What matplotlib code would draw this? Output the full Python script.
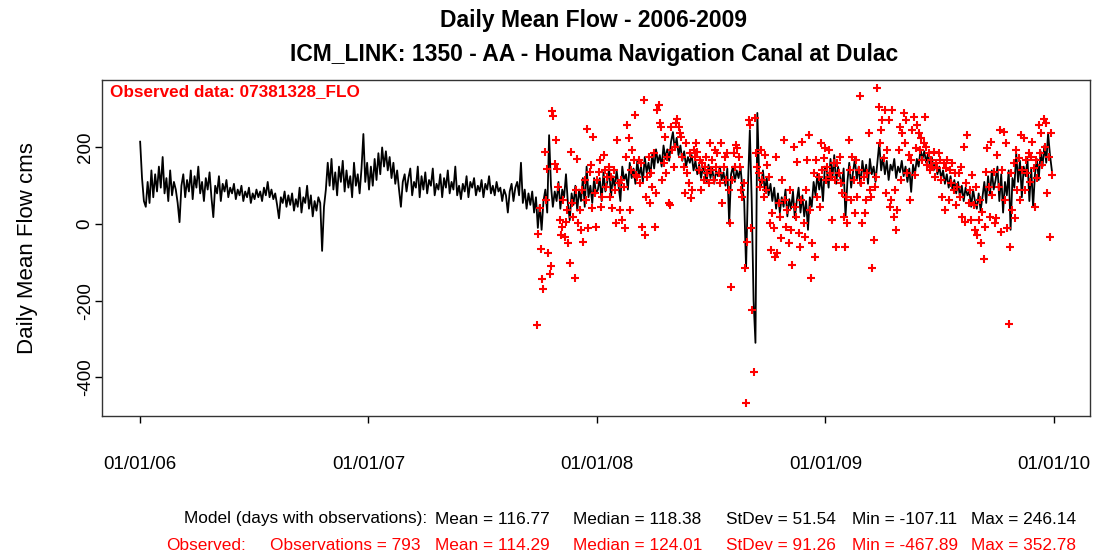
import pandas as pd
import matplotlib
matplotlib.use("Agg")
import matplotlib.pyplot as plt
import matplotlib.dates as mdates

plt.rcParams["font.family"] = ["Liberation Sans", "DejaVu Sans"]
plt.rcParams["axes.unicode_minus"] = False

# ── Data ──────────────────────────────────────────────────────
# model: one reading every 3 days from 2006-01-01
model_start = "2006-01-01"
model_step = 3
model_flow = [
    # 2006
    215, 120, 60, 45, 110, 55, 140, 70, 130, 85,
    150, 95, 175, 80, 120, 60, 140, 75, 110, 90,
    55, 5, 100, 130, 70, 115, 85, 140, 65, 125,
    95, 150, 80, 110, 60, 120, 90, 135, 70, 18,
    100, 80, 125, 60, 105, 85, 115, 70, 95, 80,
    105, 65, 90, 75, 100, 60, 85, 70, 95, 55,
    80, 65, 90, 70, 85, 60, 95, 75, 110, 70,
    90, 65, 80, 50, 15, 70, 55, 85, 45, 75,
    50, 80, 35, 65, 45, 95, 30, 70, 55, 100,
    40, 75, 20, 60, 35, 70, 55, -70, 45, 90,
    160, 100, 170, 90, 135, 75, 150, 110, 165, 85,
    140, 95, 125, 70, 160, 100, 130, 80, 145, 235,
    110, 160,
    # 2007
    90, 150, 100, 170, 115, 185, 130, 200, 150, 190,
    140, 175, 120, 160, 105, 140, 90, 45, 110, 130,
    85, 120, 145, 75, 110, 95, 150, 70, 125, 90,
    135, 80, 115, 100, 145, 75, 105, 90, 130, 70,
    120, 95, 140, 80, 110, 90, 150, 75, 100, 65,
    105, 85, 125, 70, 110, 95, 120, 75, 100, 85,
    115, 70, 105, 90, 125, 80, 100, 75, 110, 85,
    95, 60, 90, 75, 30, 85, 105, 60, 95, 110,
    75, 160, 55, 90, 40, 80, 50, 85, 30, 70,
    -10, 50, -15, 60, 90, 30, 232, 100, 45, 85,
    60, 110, 40, 90, 70, 130, 55, 10, 80, 50,
    100, 35, 90, 60, 120, 45, 150, 70, 100, 55, 120, 80,
    # 2008
    90, 120, 60, 135, 85, 110, 145, 70, 125, 95,
    140, 100, 60, 150, 115, 130, 90, 160, 120, 145,
    105, 165, 125, 150, 110, 175, 135, 160, 125, 185,
    145, 195, 160, 180, 150, 205, 170, 195, 165, 215,
    240, 195, 225, 180, 205, 165, 190, 150, 175, 160,
    180, 140, 165, 130, 155, 120, 150, 135, 110, 155,
    120, 145, 105, 140, 125, 150, 115, 135, 100, 145,
    0, 130, 150, 110, 140, 120, 150, 95, 60, -115,
    100, 245, 60, -200, -310, 290, 120, 100, 140, 85,
    120, 75, 105, 60, 95, 40, 80, 30, 70, 45,
    90, 20, 65, 40, 85, 15, 60, 95, 30, 75,
    20, 60, -15, 70, 45, 110, 75, 130, 90, 120, 60, 150,
    # 2009
    140, 95, 170, 120, 180, 105, 150, 125, 100, 145,
    18, 110, 160, 95, 135, 170, 115, 150, 100, 165,
    125, 155, 105, 170, 130, 150, 110, 160, 212, 140,
    175, 130, 165, 115, 155, 140, 170, 120, 150, 135,
    165, 125, 150, 110, 145, 84, 155, 130, 170, 150,
    195, 170, 190, 160, 185, 150, 175, 140, 160, 130,
    150, 120, 140, 105, 130, 95, 125, 90, 115, 80,
    110, 70, 100, 60, 95, 75, 85, 45, 90, 60,
    40, 80, 35, 70, 110, 55, 125, 75, 140, 90,
    115, 150, 60, 130, 30, 110, 75, 140, -15, 120,
    95, 185, 110, 165, 70, 150, 125, 170, 60, 145,
    45, 130, 170, 115, 190, 150, 205, 160, 237, 180, 140,
]

# observed: one reading every 2 days from 2007-09-28
obs_start = "2007-09-28"
obs_step = 2
obs_flow = [
    -264, -26, 42, -65, -143, -170, 188, 63, 144, -75, -130, -110, 296, 283, 157, 220,
    144, 97, 10, -29, -8, 63, -34, 5, 37, -50, -102, 188, 55, 18, -141, 89,
    170, 2, 37, -16, 89, -47, 115, 63, 248, -10, 136, 154, 42, 227, 81, -8,
    115, 136, 167, 45, 71, 180, 141, 97, 123, 149, 71, 123, 42, 141, 89, 2,
    220, 107, 37, 115, 10, 97, -10, 175, 258, 225, 37, 141, 193, 167, 284, 128,
    123, 167, 107, 159, -8, 324, -29, 71, 123, 175, 55, 133, 97, 186, -8, 81,
    298, 311, 264, 254, 115, 159, 227, 133, 175, 55, 50, 254, 193, 149, 201, 264,
    274, 254, 237, 227, 175, 149, 81, 212, 133, 107, 186, 68, 89, 193, 175, 212,
    188, 141, 167, 89, 159, 115, 149, 175, 133, 107, 212, 141, 167, 115, 193, 149,
    186, 133, 107, 212, 55, 149, 175, 115, 186, 89, 2, -164, 115, 186, 149, 207,
    198, 175, 149, 89, 71, 107, -115, -468, -47, 272, 258, -10, -225, -387, 276, 186,
    149, 133, 97, 193, 115, 71, 180, 89, 154, 123, 2, -68, 29, -10, -86, 175,
    -76, 55, 18, -37, 115, 220, 63, -8, 37, -50, 89, -16, -107, 201, 45, 18,
    162, -24, -60, 63, 214, 2, -34, 89, 167, 233, 37, -141, -50, 133, -86, 167,
    71, 123, 45, 212, 141, 172, 198, 115, 149, 193, 133, 123, 10, 159, 115, -60,
    159, 133, 175, 107, 81, 18, -60, 71, 2, 219, 141, 63, 175, 115, 29, 167,
    71, 141, 333, 107, 2, 123, 29, 63, 133, 237, 89, 71, -115, -42, 97, 123,
    354, 306, 212, 245, 271, 172, 298, 81, 193, 271, 45, 63, 298, 18, 89, -16,
    37, 193, 254, 115, 237, 289, 212, 271, 133, 180, 63, 167, 245, 280, 128, 198,
    258, 237, 193, 224, 167, 212, 280, 201, 154, 185, 141, 167, 149, 188, 123, 159,
    146, 185, 167, 115, 71, 159, 37, 146, 167, 63, 141, 107, 159, 89, 133, 50,
    97, 133, 71, 149, 18, 201, 5, 107, 233, 55, 89, 10, 128, 50, -16, 97,
    -29, 10, 63, -50, 31, -91, -8, 136, 198, 97, 18, 214, 76, 136, 2, 16,
    180, 97, 245, -21, 141, 240, 63, 212, -10, -261, -60, 133, 37, 159, 16, 193,
    89, 172, 63, 233, 141, 224, 89, 167, 133, 185, 110, 175, 214, 146, 45, 167,
    120, 258, 185, 237, 154, 274, 201, 264, 81, 175, -34, 237, 128,
]

year_ticks = ["2006-01-01", "2007-01-01", "2008-01-01", "2009-01-01", "2010-01-01"]
y_ticks = [-400, -200, 0, 200]

title_1 = "Daily Mean Flow - 2006-2009"
title_2 = "ICM_LINK: 1350 - AA - Houma Navigation Canal at Dulac"
obs_label = "Observed data: 07381328_FLO"

model_head = "Model (days with observations):"
model_stats = ["Mean = 116.77", "Median = 118.38", "StDev = 51.54", "Min = -107.11", "Max = 246.14"]
obs_head = ["Observed:", "Observations = 793"]
obs_stats = ["Mean = 114.29", "Median = 124.01", "StDev = 91.26", "Min = -467.89", "Max = 352.78"]

# ── Figure ────────────────────────────────────────────────────
W, H = 1093, 557
fig = plt.figure(figsize=(W / 100, H / 100), dpi=100)
fig.patch.set_facecolor("white")
ax = fig.add_axes([102 / W, 1 - 416 / H, (1090 - 102) / W, (416 - 80) / H])

model_dates = pd.date_range(model_start, periods=len(model_flow), freq=f"{model_step}D")
obs_dates = pd.date_range(obs_start, periods=len(obs_flow), freq=f"{obs_step}D")

ax.plot(model_dates, model_flow, color="black", lw=1.3, zorder=2)
ax.plot(obs_dates, obs_flow, ls="none", marker="+", color="#ff0000",
        ms=5.5, mew=1.5, zorder=3)

ax.set_xlim(pd.Timestamp("2006-01-01") - pd.Timedelta(days=61),
            pd.Timestamp("2010-01-01") + pd.Timedelta(days=58))
ax.set_ylim(-501, 376)

ax.set_xticks(pd.to_datetime(year_ticks))
ax.xaxis.set_major_formatter(mdates.DateFormatter("%m/%d/%y"))
ax.set_yticks(y_ticks)
ax.tick_params(axis="x", direction="out", length=5, width=1, pad=24, labelsize=13.5)
ax.tick_params(axis="y", direction="out", length=5, width=1, pad=1, labelsize=13.5)
for lab in ax.get_yticklabels():
    lab.set_rotation(90)
    lab.set_va("center")
for sp in ax.spines.values():
    sp.set_linewidth(1.0)
    sp.set_color("#333333")

ax.set_ylabel("Daily Mean Flow cms", fontsize=16, labelpad=28)
ax.text(0.008, 0.965, obs_label, transform=ax.transAxes, color="#ff0000",
        fontsize=12.3, fontweight="bold", ha="left", va="center")

fig.text(594 / W, 1 - 20 / H, title_1, ha="center", va="center",
         fontsize=16.5, fontweight="bold")
fig.text(594 / W, 1 - 55 / H, title_2, ha="center", va="center",
         fontsize=16.5, fontweight="bold")

# stats rows under the plot
col_x = [435, 573, 726, 852, 971]
fs = 12.4
fig.text(427 / W, 1 - 519 / H, model_head, ha="right", va="center", fontsize=fs)
fig.text(166 / W, 1 - 546 / H, obs_head[0], ha="left", va="center", fontsize=fs,
         color="#ff0000")
fig.text(420 / W, 1 - 546 / H, obs_head[1], ha="right", va="center", fontsize=fs,
         color="#ff0000")
for x, m, o in zip(col_x, model_stats, obs_stats):
    fig.text(x / W, 1 - 519 / H, m, ha="left", va="center", fontsize=fs)
    fig.text(x / W, 1 - 546 / H, o, ha="left", va="center", fontsize=fs, color="#ff0000")

fig.savefig("out.png", dpi=100, facecolor="white")
